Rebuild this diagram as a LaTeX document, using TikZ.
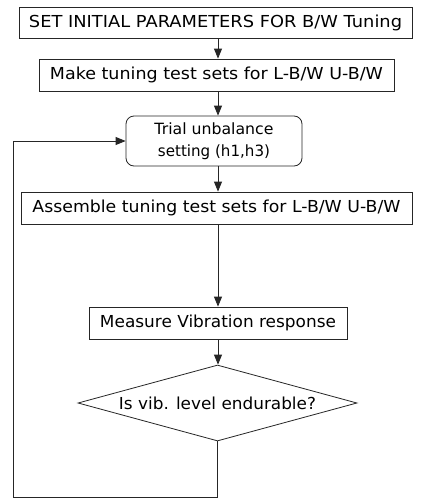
\documentclass[tikz,border=0pt]{standalone}
\usepackage{fontspec}
\setmainfont{DejaVu Sans}
\usetikzlibrary{shapes.geometric,arrows.meta}
\newcommand\fitw[2]{\resizebox{#1}{\height}{#2}}
\begin{document}
\begin{tikzpicture}[x=1pt,y=-1pt,
  line/.style={draw=black!85, line width=0.8pt},
  box/.style={line, inner sep=0pt, fill=white, font=\fontsize{16.5}{20}\selectfont},
  rbox/.style={box, rounded corners=8pt, align=center, font=\fontsize{15.5}{22}\selectfont},
  dec/.style={box, diamond, aspect=3.67},
  arr/.style={line, -{Triangle[length=10pt,width=8pt]}}]
\useasboundingbox[fill=white] (0,0) rectangle (421,498);
\node[box, minimum width=393pt, minimum height=31pt] (b1) at (215.5,22.5)
  {\fitw{373pt}{SET INITIAL PARAMETERS FOR B/W Tuning}};
\node[box, minimum width=355pt, minimum height=32pt] (b2) at (216.5,75)
  {\fitw{333pt}{Make tuning test sets for L-B/W U-B/W}};
\node[rbox, minimum width=176pt, minimum height=50pt] (b3) at (214,141)
  {\fitw{119pt}{Trial unbalance}\\\fitw{112pt}{setting (h1,h3)}};
\node[box, minimum width=391pt, minimum height=32pt] (b4) at (216.5,208)
  {\fitw{368pt}{Assemble tuning test sets for L-B/W U-B/W}};
\node[box, minimum width=258pt, minimum height=32pt] (b5) at (218,323)
  {\fitw{236pt}{Measure Vibration response}};
\node[dec, minimum width=279pt, minimum height=76pt] (d) at (217.5,403)
  {\fitw{197pt}{Is vib. level endurable?}};
\coordinate (col) at (218,0);
\coordinate (lc) at (13,497);
\draw[arr] (b1.south -| col) -- (b2.north -| col);
\draw[arr] (b2.south -| col) -- (b3.north -| col);
\draw[arr] (b3.south -| col) -- (b4.north -| col);
\draw[arr] (b4.south -| col) -- (b5.north -| col);
\draw[arr] (b5.south -| col) -- (d.north -| col);
\draw[arr] (d.south) |- (lc) |- (b3.west);
\end{tikzpicture}
\end{document}
